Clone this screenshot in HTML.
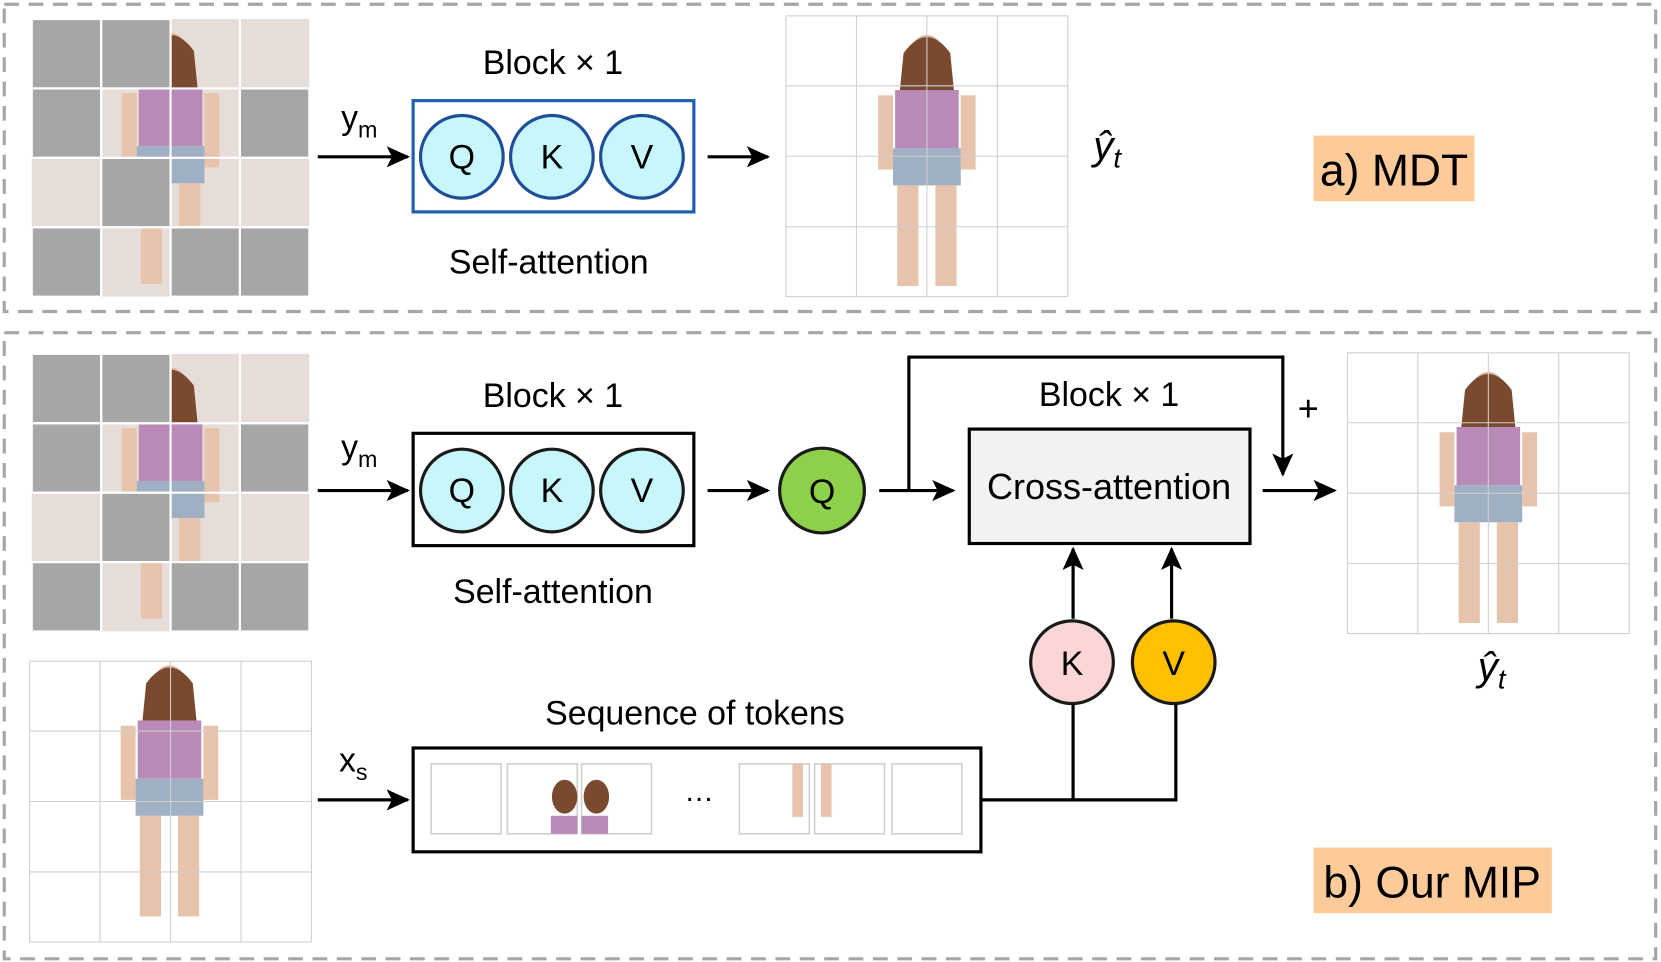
<!DOCTYPE html>
<html><head><meta charset="utf-8"><style>html,body{margin:0;padding:0;background:#fff}svg{display:block}text{font-family:"Liberation Sans",sans-serif}</style></head>
<body>
<svg width="1661" height="962" viewBox="0 0 1568 908" preserveAspectRatio="none" xmlns="http://www.w3.org/2000/svg">
<defs>
<marker id="ah" markerWidth="10" markerHeight="10" refX="8" refY="5" orient="auto" markerUnits="userSpaceOnUse" viewBox="0 0 10 10"><path d="M0,0 L10,5 L0,10 Z" fill="#000"/></marker>
<marker id="a2" markerWidth="22" markerHeight="20" refX="20" refY="10" orient="auto" markerUnits="userSpaceOnUse"><path d="M0,0 L22,10 L0,20 L5,10 Z" fill="#000"/></marker>
<g id="person">
<ellipse cx="0" cy="-95" rx="17" ry="22" fill="#e0b49a"/>
<path d="M-22,-100 Q0,-130 22,-100 L26,-60 L-26,-60 Z" fill="#7a4a30"/>
<rect x="-30" y="-65" width="60" height="55" fill="#b98ab8"/>
<rect x="-32" y="-10" width="64" height="35" fill="#9fb0c4"/>
<rect x="-28" y="25" width="20" height="95" fill="#e8c3ab"/>
<rect x="8" y="25" width="20" height="95" fill="#e8c3ab"/>
<rect x="-46" y="-60" width="14" height="70" fill="#e8c3ab"/>
<rect x="32" y="-60" width="14" height="70" fill="#e8c3ab"/>
</g>
<g id="grid" stroke="#cfcfcf" stroke-width="1" fill="none">
<rect x="0" y="0" width="266" height="265"/>
<line x1="66.5" y1="0" x2="66.5" y2="265"/><line x1="133" y1="0" x2="133" y2="265"/><line x1="199.5" y1="0" x2="199.5" y2="265"/>
<line x1="0" y1="66" x2="266" y2="66"/><line x1="0" y1="132.5" x2="266" y2="132.5"/><line x1="0" y1="199" x2="266" y2="199"/>
</g>
<g id="masked">
<rect x="0" y="0" width="262" height="262" fill="#e6ddd8"/>
<use href="#person" x="131" y="130"/>
<g fill="#a6a6a6" stroke="#fff" stroke-width="2">
<rect x="0" y="0" width="65.5" height="65.5"/><rect x="65.5" y="0" width="65.5" height="65.5"/>
<rect x="0" y="65.5" width="65.5" height="65.5"/><rect x="196.5" y="65.5" width="65.5" height="65.5"/>
<rect x="65.5" y="131" width="65.5" height="65.5"/>
<rect x="0" y="196.5" width="65.5" height="65.5"/><rect x="131" y="196.5" width="65.5" height="65.5"/><rect x="196.5" y="196.5" width="65.5" height="65.5"/>
</g>
<g fill="none" stroke="#fff" stroke-width="2"><line x1="131" y1="0" x2="131" y2="262"/><line x1="196.5" y1="0" x2="196.5" y2="262"/><line x1="0" y1="131" x2="262" y2="131"/><line x1="0" y1="196.5" x2="262" y2="196.5"/><line x1="65.5" y1="0" x2="65.5" y2="262"/><line x1="0" y1="65.5" x2="262" y2="65.5"/></g>
</g>
</defs>

<!-- panels -->
<rect x="4" y="4" width="1559" height="290" fill="none" stroke="#a6a6a6" stroke-width="3" stroke-dasharray="14,9"/>
<rect x="4" y="314" width="1559" height="591" fill="none" stroke="#a6a6a6" stroke-width="3" stroke-dasharray="14,9"/>

<!-- top -->
<use href="#masked" x="30" y="18"/>
<line x1="300" y1="148" x2="385" y2="148" stroke="#000" stroke-width="3" marker-end="url(#a2)"/>
<text x="322" y="122" font-size="32">y<tspan font-size="22" dy="8">m</tspan></text>
<rect x="390" y="95" width="265" height="105" fill="#fff" stroke="#1f5fb0" stroke-width="3"/>
<g fill="#c8f7fb" stroke="#1f4e99" stroke-width="3"><circle cx="436" cy="148" r="39"/><circle cx="521" cy="148" r="39"/><circle cx="606" cy="148" r="39"/></g>
<g font-size="32" text-anchor="middle"><text x="436" y="159">Q</text><text x="521" y="159">K</text><text x="606" y="159">V</text></g>
<text x="522" y="70" font-size="32" text-anchor="middle">Block × 1</text>
<text x="518" y="258" font-size="32" text-anchor="middle">Self-attention</text>
<line x1="668" y1="148" x2="725" y2="148" stroke="#000" stroke-width="3" marker-end="url(#a2)"/>
<rect x="742" y="15" width="266" height="265" fill="#fff"/>
<use href="#person" x="875" y="150"/>
<use href="#grid" x="742" y="15"/>
<text x="1032" y="150" font-size="38" font-style="italic" font-family="Liberation Serif,serif">ŷ<tspan font-size="26" dy="8">t</tspan></text>
<rect x="1240" y="128" width="152" height="62" fill="#fdca9a"/>
<text x="1316" y="175" font-size="42" text-anchor="middle">a) MDT</text>

<!-- bottom -->
<use href="#masked" x="30" y="334"/>
<line x1="300" y1="463" x2="385" y2="463" stroke="#000" stroke-width="3" marker-end="url(#a2)"/>
<text x="322" y="433" font-size="32">y<tspan font-size="22" dy="8">m</tspan></text>
<rect x="390" y="409" width="265" height="106" fill="#fff" stroke="#000" stroke-width="3"/>
<g fill="#c8f7fb" stroke="#1a1a1a" stroke-width="3"><circle cx="436" cy="463" r="39"/><circle cx="521" cy="463" r="39"/><circle cx="606" cy="463" r="39"/></g>
<g font-size="32" text-anchor="middle"><text x="436" y="474">Q</text><text x="521" y="474">K</text><text x="606" y="474">V</text></g>
<text x="522" y="384" font-size="32" text-anchor="middle">Block × 1</text>
<text x="522" y="569" font-size="32" text-anchor="middle">Self-attention</text>
<line x1="668" y1="463" x2="725" y2="463" stroke="#000" stroke-width="3" marker-end="url(#a2)"/>
<circle cx="776" cy="463" r="40" fill="#8dd04a" stroke="#1a1a1a" stroke-width="3"/>
<text x="776" y="475" font-size="32" text-anchor="middle">Q</text>
<line x1="830" y1="463" x2="900" y2="463" stroke="#000" stroke-width="3" marker-end="url(#a2)"/>
<polyline points="858,463 858,337 1211,337 1211,448" fill="none" stroke="#000" stroke-width="3" marker-end="url(#a2)"/>
<text x="1235" y="397" font-size="34" text-anchor="middle">+</text>
<rect x="915" y="405" width="265" height="108" fill="#f2f2f2" stroke="#000" stroke-width="3"/>
<text x="1047" y="471" font-size="34" text-anchor="middle">Cross-attention</text>
<text x="1047" y="383" font-size="32" text-anchor="middle">Block × 1</text>
<line x1="1192" y1="463" x2="1260" y2="463" stroke="#000" stroke-width="3" marker-end="url(#a2)"/>
<rect x="1272" y="333" width="266" height="265" fill="#fff"/>
<use href="#person" x="1405" y="468"/>
<use href="#grid" x="1272" y="333"/>
<text x="1395" y="642" font-size="38" font-style="italic" font-family="Liberation Serif,serif">ŷ<tspan font-size="26" dy="8">t</tspan></text>

<line x1="1013" y1="584" x2="1013" y2="518" stroke="#000" stroke-width="3" marker-end="url(#a2)"/>
<line x1="1106" y1="584" x2="1106" y2="518" stroke="#000" stroke-width="3" marker-end="url(#a2)"/>
<circle cx="1012" cy="625" r="39" fill="#fcd5d5" stroke="#1a1a1a" stroke-width="3"/>
<circle cx="1108" cy="625" r="39" fill="#ffc000" stroke="#1a1a1a" stroke-width="3"/>
<g font-size="32" text-anchor="middle"><text x="1012" y="637">K</text><text x="1108" y="637">V</text></g>
<polyline points="926,755 1110,755 1110,665" fill="none" stroke="#000" stroke-width="3"/>
<line x1="1013" y1="665" x2="1013" y2="755" stroke="#000" stroke-width="3"/>

<rect x="28" y="625" width="266" height="263" fill="#fff"/>
<use href="#person" x="160" y="745"/>
<use href="#grid" x="28" y="624"/>
<line x1="300" y1="755" x2="385" y2="755" stroke="#000" stroke-width="3" marker-end="url(#a2)"/>
<text x="320" y="728" font-size="32">x<tspan font-size="22" dy="8">s</tspan></text>
<text x="656" y="684" font-size="32" text-anchor="middle">Sequence of tokens</text>
<rect x="390" y="706" width="536" height="98" fill="#fff" stroke="#000" stroke-width="3"/>
<g fill="#fff" stroke="#cfcfcf" stroke-width="1.5">
<rect x="407" y="721" width="66" height="66"/><rect x="479" y="721" width="66" height="66"/><rect x="549" y="721" width="66" height="66"/>
<rect x="698" y="721" width="66" height="66"/><rect x="769" y="721" width="66" height="66"/><rect x="842" y="721" width="66" height="66"/>
</g>
<ellipse cx="533" cy="752" rx="12" ry="16" fill="#7a4a30"/><rect x="520" y="770" width="25" height="17" fill="#b98ab8"/>
<ellipse cx="563" cy="752" rx="12" ry="16" fill="#7a4a30"/><rect x="549" y="770" width="25" height="17" fill="#b98ab8"/>
<rect x="748" y="721" width="10" height="50" fill="#e8c3ab"/><rect x="775" y="721" width="10" height="50" fill="#e8c3ab"/>
<text x="660" y="756" font-size="28" text-anchor="middle">…</text>

<rect x="1240" y="800" width="225" height="62" fill="#fdca9a"/>
<text x="1352" y="847" font-size="42" text-anchor="middle">b) Our MIP</text>
</svg>
</body></html>
